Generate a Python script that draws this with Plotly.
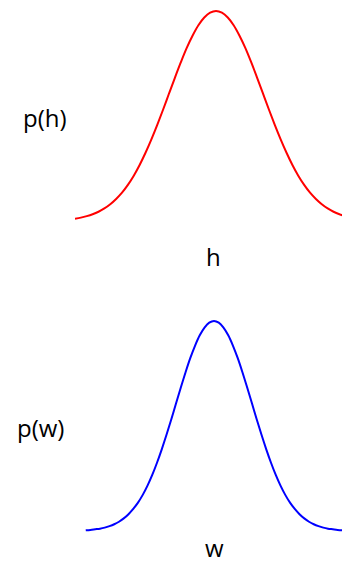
import plotly.graph_objects as go

# Values (peak normalised to 1)
h_vals = [-3.0, -2.875, -2.75, -2.625, -2.5, -2.375, -2.25, -2.125, -2.0, -1.875, -1.75, -1.625,
          -1.5, -1.375, -1.25, -1.125, -1.0, -0.875, -0.75, -0.625, -0.5, -0.375, -0.25, -0.125, 0.0,
          0.125, 0.25, 0.375, 0.5, 0.625, 0.75, 0.875, 1.0, 1.125, 1.25, 1.375, 1.5, 1.625,
          1.75, 1.875, 2.0, 2.125, 2.25, 2.375, 2.5, 2.625, 2.75, 2.875, 3.0]
p_h = [0.011, 0.016, 0.023, 0.032, 0.044, 0.060, 0.080, 0.105, 0.135, 0.172, 0.216, 0.267,
       0.325, 0.389, 0.458, 0.531, 0.607, 0.682, 0.755, 0.823, 0.882, 0.932, 0.969, 0.992, 1.0,
       0.992, 0.969, 0.932, 0.882, 0.823, 0.755, 0.682, 0.607, 0.531, 0.458, 0.389, 0.325, 0.267,
       0.216, 0.172, 0.135, 0.105, 0.080, 0.060, 0.044, 0.032, 0.023, 0.016, 0.011]

w_vals = [-3.375, -3.25, -3.125, -3.0, -2.875, -2.75, -2.625, -2.5, -2.375, -2.25, -2.125, -2.0,
          -1.875, -1.75, -1.625, -1.5, -1.375, -1.25, -1.125, -1.0, -0.875, -0.75, -0.625, -0.5,
          -0.375, -0.25, -0.125, 0.0, 0.125, 0.25, 0.375, 0.5, 0.625, 0.75, 0.875, 1.0, 1.125,
          1.25, 1.375, 1.5, 1.625, 1.75, 1.875, 2.0, 2.125, 2.25, 2.375, 2.5, 2.625, 2.75, 2.875,
          3.0, 3.125, 3.25, 3.375, 3.5]
p_w = [0.003, 0.005, 0.008, 0.011, 0.016, 0.023, 0.032, 0.044, 0.060, 0.080, 0.105, 0.135,
       0.172, 0.216, 0.267, 0.325, 0.389, 0.458, 0.531, 0.607, 0.682, 0.755, 0.823, 0.882,
       0.932, 0.969, 0.992, 1.0, 0.992, 0.969, 0.932, 0.882, 0.823, 0.755, 0.682, 0.607, 0.531,
       0.458, 0.389, 0.325, 0.267, 0.216, 0.172, 0.135, 0.105, 0.080, 0.060, 0.044, 0.032, 0.023,
       0.016, 0.011, 0.008, 0.005, 0.003, 0.002]

W, H = 342, 563
font = dict(family="Open Sans", size=24, color="black")

fig = go.Figure()
fig.add_trace(go.Scatter(x=h_vals, y=p_h, mode="lines", line=dict(color="red", width=2, shape="spline"),
                         xaxis="x", yaxis="y", hoverinfo="skip"))
fig.add_trace(go.Scatter(x=w_vals, y=p_w, mode="lines", line=dict(color="blue", width=2, shape="spline"),
                         xaxis="x2", yaxis="y2", hoverinfo="skip"))

ax_common = dict(showgrid=False, zeroline=False, showticklabels=False, ticks="", showline=False, fixedrange=True)


def ann(text, px, py):
    return dict(text=text, x=px / W, y=1 - py / H, xref="paper", yref="paper", showarrow=False,
                xanchor="center", yanchor="middle", font=font)


fig.update_layout(
    width=W, height=H, margin=dict(l=0, r=0, t=0, b=0),
    paper_bgcolor="white", plot_bgcolor="white", showlegend=False,
    xaxis=dict(domain=[75 / W, 1], range=[-3.0, 2.68], **ax_common),
    yaxis=dict(domain=[1 - 227 / H, 1 - 5 / H], range=[-0.0286, 1.0286], **ax_common),
    xaxis2=dict(domain=[80 / W, 1], range=[-3.526, 3.368], anchor="y2", **ax_common),
    yaxis2=dict(domain=[1 - 537 / H, 1 - 315 / H], range=[-0.0286, 1.0286], anchor="x2", **ax_common),
    annotations=[
        ann("p(h)", 44.5, 117),
        ann("h", 213, 256),
        ann("p(w)", 40.5, 427),
        ann("w", 214, 547),
    ],
)
fig.write_html("out.html", config={"displayModeBar": False},
               post_script="document.body.style.margin='0';document.body.style.overflow='hidden';")
